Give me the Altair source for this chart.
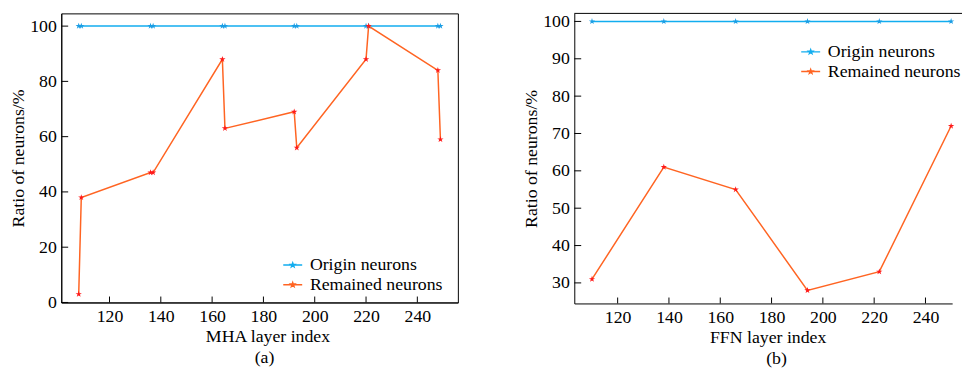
import altair as alt
import pandas as pd

# ---- data ----
series_names = ["Origin neurons", "Remained neurons"]

mha_layer = [108, 109, 136, 137, 164, 165, 192, 193, 220, 221, 248, 249]
mha_origin = [100, 100, 100, 100, 100, 100, 100, 100, 100, 100, 100, 100]
mha_remained = [3, 38, 47, 47, 88, 63, 69, 56, 88, 100, 84, 59]

ffn_layer = [110, 138, 166, 194, 222, 250]
ffn_origin = [100, 100, 100, 100, 100, 100]
ffn_remained = [31, 61, 55, 28, 33, 72]

mha_xticks = [120, 140, 160, 180, 200, 220, 240]
mha_yticks = [0, 20, 40, 60, 80, 100]
ffn_xticks = [120, 140, 160, 180, 200, 220, 240]
ffn_yticks = [30, 40, 50, 60, 70, 80, 90, 100]

line_colors = ["#12adef", "#ff6422"]
marker_colors = ["#1a9de4", "#ff1a1a"]

FONT = "Liberation Serif"
STAR = ("M0,-1L0.2245,-0.309L0.951,-0.309L0.363,0.118L0.588,0.809L0,0.382"
        "L-0.588,0.809L-0.363,0.118L-0.951,-0.309L-0.2245,-0.309Z")
LEG = ("M-1.6,0L1.6,0M0,-0.35L0.082,-0.113L0.333,-0.108L0.133,0.043L0.206,0.283"
       "L0,0.14L-0.206,0.283L-0.133,0.043L-0.333,-0.108L-0.082,-0.113Z")


def to_long(layers, origin, remained):
    rows = []
    for i, x in enumerate(layers):
        rows.append({"layer": x, "ratio": origin[i], "series": series_names[0]})
    for i, x in enumerate(layers):
        rows.append({"layer": x, "ratio": remained[i], "series": series_names[1]})
    return pd.DataFrame(rows)


def panel(df, xdom, ydom, xticks, yticks, width, height, xtitle, cap,
          lx, ly, title_dx, cap_dx, frame_right):
    xs = alt.Scale(domain=xdom, nice=False, zero=False)
    ys = alt.Scale(domain=ydom, nice=False, zero=False)
    x = alt.X("layer:Q", scale=xs,
              axis=alt.Axis(values=xticks, title=xtitle, ticks=False, grid=False,
                            labelPadding=5, titlePadding=3, titleX=width / 2 + title_dx,
                            labelFont=FONT, labelFontSize=18, labelColor="black",
                            titleFont=FONT, titleFontSize=18, titleFontWeight="normal",
                            titleColor="black", domainColor="black", labelFlush=False))
    y = alt.Y("ratio:Q", scale=ys,
              axis=alt.Axis(values=yticks, title="Ratio of neurons/%", ticks=False,
                            grid=False, labelPadding=5, titlePadding=2,
                            labelFont=FONT, labelFontSize=18, labelColor="black",
                            titleFont=FONT, titleFontSize=18, titleFontWeight="normal",
                            titleColor="black", domainColor="black", labelFlush=False))
    base = alt.Chart(df)
    lines = base.mark_line(strokeWidth=1.5).encode(
        x=x, y=y,
        color=alt.Color("series:N",
                        scale=alt.Scale(domain=series_names, range=line_colors),
                        legend=alt.Legend(title=None, orient="none", legendX=lx, legendY=ly,
                                          symbolType=LEG, symbolSize=144,
                                          symbolStrokeWidth=1.5,
                                          labelFont=FONT, labelFontSize=18,
                                          labelColor="black", labelOffset=8.4,
                                          rowPadding=2, padding=0)),
    )
    pts = base.mark_point(shape=STAR, filled=True, size=45, opacity=1).encode(
        x=x, y=y,
        fill=alt.Fill("series:N",
                      scale=alt.Scale(domain=series_names, range=marker_colors),
                      legend=None),
    )
    xt = alt.Chart(pd.DataFrame({"layer": xticks})).mark_rule(
        color="black", strokeWidth=1).encode(
        x=x, y=alt.value(height), y2=alt.value(height - 6))
    yt = alt.Chart(pd.DataFrame({"ratio": yticks})).mark_rule(
        color="black", strokeWidth=1).encode(
        y=y, x=alt.value(0), x2=alt.value(7))
    layers = [lines, pts, xt, yt]
    props = dict(
        width=width, height=height,
        title=alt.TitleParams(cap, orient="bottom", anchor="middle", frame="group",
                              font=FONT, fontSize=18, fontWeight="normal",
                              color="black", offset=3, dx=cap_dx),
    )
    if not frame_right:
        top = alt.Chart(pd.DataFrame({"ratio": [ydom[1]]})).mark_rule(
            color="black", strokeWidth=1).encode(
            y=y, x=alt.value(0), x2=alt.value(width + 10))
        layers.append(top)
        props["view"] = alt.ViewBackground(stroke="transparent")
    return alt.layer(*layers).properties(**props)


left = panel(to_long(mha_layer, mha_origin, mha_remained),
             [101.2, 255.8], [0, 104.6], mha_xticks, mha_yticks,
             402, 293, "MHA layer index", "(a)", 225.6, 246, 8, 5, True)
right = panel(to_long(ffn_layer, ffn_origin, ffn_remained),
              [103.1, 250.4], [24.5, 102.15], ffn_xticks, ffn_yticks,
              383, 294, "FFN layer index", "(b)", 230.6, 30, 4.5, 13.5, False)

chart = alt.hconcat(left, right, spacing=64).resolve_scale(
    color="independent", fill="independent"
).resolve_legend(color="independent").properties(
    padding={"left": 1, "top": 1, "right": 0, "bottom": 0}
).configure_view(stroke="black", strokeWidth=1)

chart.save("out.html", embed_options={"renderer": "svg", "actions": False})
